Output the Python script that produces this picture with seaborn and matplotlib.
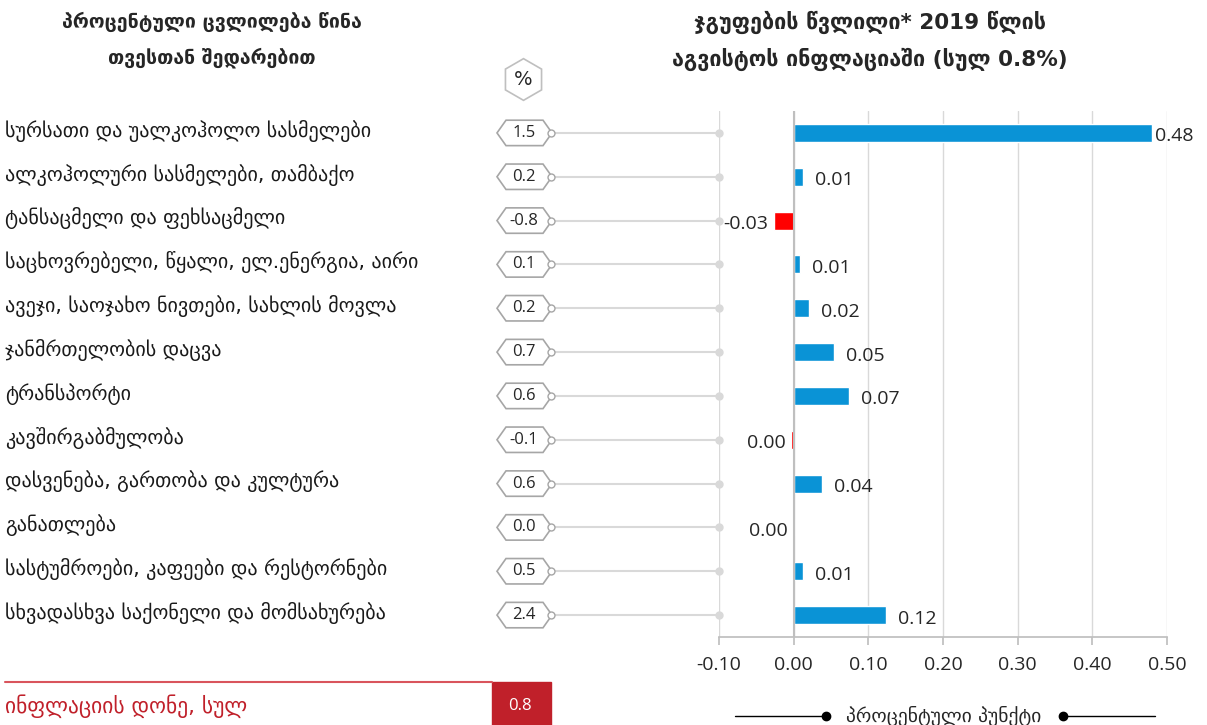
import matplotlib
matplotlib.use("Agg")
import matplotlib.pyplot as plt
from matplotlib.lines import Line2D
from matplotlib.patches import Polygon, Rectangle
import numpy as np
import pandas as pd
import seaborn as sns

# data
categories = [
    "სურსათი და უალკოჰოლო სასმელები",
    "ალკოჰოლური სასმელები, თამბაქო",
    "ტანსაცმელი და ფეხსაცმელი",
    "საცხოვრებელი, წყალი, ელ.ენერგია, აირი",
    "ავეჯი, საოჯახო ნივთები, სახლის მოვლა",
    "ჯანმრთელობის დაცვა",
    "ტრანსპორტი",
    "კავშირგაბმულობა",
    "დასვენება, გართობა და კულტურა",
    "განათლება",
    "სასტუმროები, კაფეები და რესტორნები",
    "სხვადასხვა საქონელი და მომსახურება",
]
contribution = [0.48, 0.012, -0.027, 0.008, 0.02, 0.054, 0.074, -0.003, 0.038, -0.0003, 0.013, 0.124]
pct_change = [1.5, 0.2, -0.8, 0.1, 0.2, 0.7, 0.6, -0.1, 0.6, 0.0, 0.5, 2.4]
xticks = [-0.10, 0.00, 0.10, 0.20, 0.30, 0.40, 0.50]
total_inflation = 0.8

BLUE = "#0A93D6"
RED = "#FF0000"
GRID = "#D9D9D9"
DARK_RED = "#C0202A"
NUM_FONT = ["Open Sans", "DejaVu Sans"]

sns.set_theme(style="white")
plt.rcParams["font.family"] = ["DejaVu Sans"]

W, H = 1207, 725
fig = plt.figure(figsize=(W / 100, H / 100), dpi=100)

ax_top, ax_bot = 111, 637
ax = fig.add_axes([719 / W, 1 - ax_bot / H, (1167 - 719) / W, (ax_bot - ax_top) / H])
axl = fig.add_axes([0, 1 - ax_bot / H, 719 / W, (ax_bot - ax_top) / H])

df = pd.DataFrame({"cat": categories, "val": contribution})
colors = [RED if v < 0 else BLUE for v in contribution]
sns.barplot(data=df, x="val", y="cat", hue="cat", palette=colors, legend=False,
            orient="h", width=0.41, saturation=1, ax=ax)

ax.set_xlim(-0.1, 0.5)
ax.set_ylim(len(categories) - 0.5, -0.5)
ax.set_xticks(xticks)
ax.set_xticklabels([f"{t:.2f}" for t in xticks], fontsize=14, family=NUM_FONT)
ax.set_yticks([])
ax.set_xlabel("")
ax.set_ylabel("")
ax.grid(axis="x", color=GRID, lw=1)
ax.axvline(0, color="#BFBFBF", lw=1.5, zorder=3)
for s in ["top", "right", "left"]:
    ax.spines[s].set_visible(False)
ax.spines["bottom"].set_color("#BFBFBF")
ax.tick_params(axis="x", length=6, color="#BFBFBF", pad=8, bottom=True)

for i, v in enumerate(contribution):
    if v > 0:
        # labels sit a little right of the bar end, kept inside the plot area
        ax.text(min(v + 0.016, 0.4835), i + 0.08, f"{v:.2f}", va="center", ha="left",
                fontsize=14, family=NUM_FONT)
    else:
        ax.text(v - 0.007, i + 0.08, f"{abs(v) if abs(v) < 0.005 else v:.2f}", va="center",
                ha="right", fontsize=14, family=NUM_FONT)

# left panel: category names and percent-change tags
axl.set_xlim(0, 719)
axl.set_ylim(len(categories) - 0.5, -0.5)
axl.axis("off")
hh = 0.29
for i, (name, p) in enumerate(zip(categories, pct_change)):
    axl.text(5, i - 0.05, name, va="center", ha="left", fontsize=14.5, color="#1a1a1a")
    axl.plot([552, 719], [i, i], color=GRID, lw=1.5, zorder=1)
    axl.plot(719, i, marker="o", ms=5, color=GRID, zorder=2, clip_on=False)
    pts = [(497, i), (506, i - hh), (543, i - hh), (552, i), (543, i + hh), (506, i + hh)]
    axl.add_patch(Polygon(pts, closed=True, fc="white", ec="#A6A6A6", lw=1.2, zorder=3))
    axl.plot(551, i, marker="o", ms=5, mfc="white", mec="#A6A6A6", zorder=4)
    axl.text(524, i, f"{p:.1f}", va="center", ha="center", fontsize=12,
             family=NUM_FONT, zorder=5)

# "%" hexagon
axl.plot(523, -1.22, marker="h", ms=30, mfc="white", mec="#BFBFBF", mew=1.2, clip_on=False)
axl.text(523, -1.22, "%", va="center", ha="center", fontsize=14, clip_on=False)

# headers
fig.text(212 / W, 1 - 40 / H, "პროცენტული ცვლილება წინა\nთვესთან შედარებით",
         ha="center", va="center", fontsize=14, fontweight="bold", linespacing=1.9)
fig.text(870 / W, 1 - 41 / H, "ჯგუფების წვლილი* 2019 წლის\nაგვისტოს ინფლაციაში (სულ 0.8%)",
         ha="center", va="center", fontsize=15.5, fontweight="bold", linespacing=1.75)

# bottom-left total inflation strip
fig.add_artist(Line2D([5 / W, 492 / W], [1 - 682 / H] * 2, color="#D9545C", lw=1.5,
                      transform=fig.transFigure))
fig.add_artist(Rectangle((492 / W, 0), 59 / W, 43 / H, color=DARK_RED,
                         transform=fig.transFigure))
fig.text(520 / W, 1 - 706 / H, f"{total_inflation:.1f}", color="white", ha="center",
         va="center", fontsize=12, family=NUM_FONT)
fig.text(5 / W, 1 - 706 / H, "ინფლაციის დონე, სულ", color=DARK_RED, ha="left",
         va="center", fontsize=15.5)

# bottom-right unit legend
ly = 1 - 716 / H
fig.add_artist(Line2D([735 / W, 826 / W], [ly, ly], color="black", lw=1,
                      transform=fig.transFigure))
fig.add_artist(Line2D([1063 / W, 1155 / W], [ly, ly], color="black", lw=1,
                      transform=fig.transFigure))
fig.add_artist(Line2D([826 / W, 1063 / W], [ly, ly], ls="none", marker="o", ms=6,
                      color="black", transform=fig.transFigure))
fig.text(944 / W, ly, "პროცენტული პუნქტი", ha="center", va="center", fontsize=14)

fig.savefig("out.png", dpi=100)
